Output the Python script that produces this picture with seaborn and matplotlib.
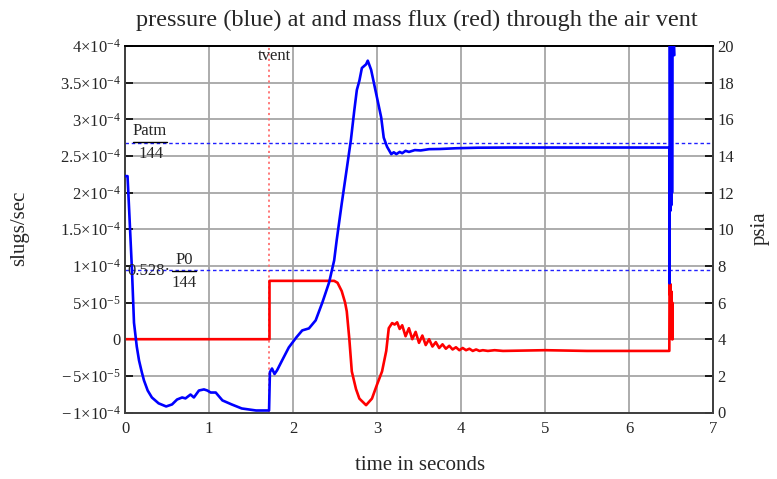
import numpy as np
import pandas as pd
import matplotlib
matplotlib.use("Agg")
import matplotlib.pyplot as plt
from matplotlib.lines import Line2D
import seaborn as sns

# ---- data -------------------------------------------------------------
t_vent = 1.72          # s, vent opening time
p_atm_psia = 14.7      # Patm/144
p0_psia = 14.7         # P0/144
choke_ratio = 0.528

# pressure at the vent (psia), right axis
t_pressure = [0.0, 0.03, 0.05, 0.083, 0.107, 0.14, 0.167, 0.20, 0.226, 0.27,
              0.32, 0.40, 0.49, 0.56, 0.62, 0.68, 0.72, 0.78, 0.82, 0.88,
              0.94, 0.98, 1.02, 1.08, 1.16, 1.27, 1.39, 1.56, 1.715, 1.725,
              1.75, 1.78, 1.81, 1.87, 1.95, 2.04, 2.11, 2.19, 2.27, 2.35,
              2.43, 2.49, 2.52, 2.58, 2.64, 2.69, 2.73, 2.76, 2.79, 2.82,
              2.87, 2.89, 2.93, 2.99, 3.05, 3.08, 3.12, 3.17, 3.20, 3.23,
              3.27, 3.30, 3.34, 3.38, 3.45, 3.52, 3.62, 3.75, 3.94, 4.2,
              4.6, 5.0, 5.5, 6.0, 6.47, 6.48, 6.483, 6.487, 6.492, 6.497,
              6.502, 6.507, 6.512, 6.52, 6.53, 6.54]
pressure_psia = [12.9, 12.9, 11.0, 7.76, 4.9, 3.6, 2.84, 2.2, 1.75, 1.2,
                 0.82, 0.5, 0.33, 0.44, 0.71, 0.82, 0.77, 0.98, 0.82, 1.2,
                 1.26, 1.2, 1.09, 1.09, 0.66, 0.44, 0.22, 0.11, 0.11, 2.2,
                 2.4, 2.1, 2.3, 2.84, 3.55, 4.1, 4.48, 4.59, 5.03, 6.01,
                 7.1, 8.3, 9.4, 11.4, 13.3, 14.9, 16.5, 17.6, 18.1, 18.8,
                 19.0, 19.2, 18.7, 17.4, 16.1, 15.0, 14.5, 14.1, 14.2, 14.1,
                 14.22, 14.15, 14.28, 14.22, 14.32, 14.3, 14.37, 14.38, 14.42, 14.45,
                 14.46, 14.46, 14.46, 14.46, 14.46, 14.46, 7.05, 24.0, 11.0, 24.0,
                 11.3, 24.0, 12.0, 24.0, 21.0, 19.5]

# mass flux through the vent (units of 1e-4 slugs/sec), left axis
t_flux = [0.0, 1.72, 1.72, 2.49, 2.53, 2.58, 2.62, 2.64, 2.67, 2.70,
          2.75, 2.79, 2.87, 2.94, 3.00, 3.06, 3.11, 3.14, 3.18, 3.21,
          3.24, 3.27, 3.30, 3.34, 3.38, 3.42, 3.46, 3.50, 3.54, 3.58,
          3.62, 3.66, 3.70, 3.74, 3.78, 3.82, 3.86, 3.90, 3.94, 3.98,
          4.02, 4.06, 4.10, 4.14, 4.18, 4.22, 4.26, 4.32, 4.40, 4.50,
          5.0, 5.5, 6.0, 6.48, 6.483, 6.49, 6.495, 6.50, 6.505, 6.51,
          6.515, 6.52]
mass_flux_e4 = [0.0, 0.0, 0.796, 0.796, 0.77, 0.656, 0.50, 0.38, 0.01, -0.44,
                -0.68, -0.81, -0.90, -0.81, -0.62, -0.44, -0.16, 0.15, 0.22, 0.20,
                0.23, 0.14, 0.19, 0.04, 0.15, 0.0, 0.10, -0.05, 0.05, -0.08,
                0.0, -0.10, -0.04, -0.12, -0.07, -0.13, -0.09, -0.14, -0.11, -0.15,
                -0.12, -0.15, -0.13, -0.16, -0.14, -0.16, -0.15, -0.16, -0.15, -0.16,
                -0.15, -0.16, -0.16, -0.16, 0.79, 0.6, 0.75, 0.05, 0.65, 0.0,
                0.5, 0.0]

flux_ticks = [-1e-4, -5e-5, 0.0, 5e-5, 1e-4, 1.5e-4, 2e-4, 2.5e-4, 3e-4, 3.5e-4, 4e-4]
flux_tick_labels = [r"$-\,1{\times}10^{-4}$", r"$-\,5{\times}10^{-5}$", "0",
                    r"$5{\times}10^{-5}$", r"$1{\times}10^{-4}$", r"$1.5{\times}10^{-4}$",
                    r"$2{\times}10^{-4}$", r"$2.5{\times}10^{-4}$", r"$3{\times}10^{-4}$",
                    r"$3.5{\times}10^{-4}$", r"$4{\times}10^{-4}$"]
psia_ticks = [0, 2, 4, 6, 8, 10, 12, 14, 16, 18, 20]
time_ticks = [0, 1, 2, 3, 4, 5, 6, 7]

pressure_df = pd.DataFrame({"t": t_pressure, "p": pressure_psia})
flux_df = pd.DataFrame({"t": t_flux, "m": np.array(mass_flux_e4) * 1e-4})

# ---- style ------------------------------------------------------------
sns.set_theme(style="white")
serif = "Liberation Serif"
plt.rcParams["font.family"] = [serif, "DejaVu Serif"]
plt.rcParams["mathtext.fontset"] = "custom"
plt.rcParams["mathtext.rm"] = serif
plt.rcParams["mathtext.it"] = serif + ":italic"
plt.rcParams["mathtext.bf"] = serif + ":bold"

W, H = 777, 479
fig = plt.figure(figsize=(W / 100, H / 100), dpi=100)
x0, x1, y0, y1 = 125, 713, 46, 412.5
ax = fig.add_axes([x0 / W, 1 - y1 / H, (x1 - x0) / W, (y1 - y0) / H])
ax2 = ax.twinx()

grid_col = "#a6a6a6"
for v in time_ticks[1:-1]:
    ax.axvline(v, color=grid_col, lw=1.3, zorder=0)
for v in flux_ticks[1:-1]:
    ax.axhline(v, color=grid_col, lw=1.3, zorder=0)

# vent opening marker
ax.axvline(t_vent, color="#ff7070", lw=1.3, ls=(0, (1.2, 1.8)), zorder=1)

sns.lineplot(data=flux_df, x="t", y="m", ax=ax, sort=False, estimator=None,
             color="#ff0000", lw=1.9, zorder=3)

# reference pressures
ax2.axhline(p_atm_psia, color="#2020ff", lw=1.0, ls=(0, (2.5, 2)), zorder=2)
ax2.axhline(choke_ratio * p0_psia, color="#2020ff", lw=1.0, ls=(0, (2.5, 2)), zorder=2)

sns.lineplot(data=pressure_df, x="t", y="p", ax=ax2, sort=False, estimator=None,
             color="#0000ff", lw=1.9, zorder=4)

ax.set_xlim(0, 7)
ax.set_ylim(-1e-4, 4e-4)
ax2.set_ylim(0, 20)

ax.set_xticks(time_ticks)
ax.set_xticklabels([str(v) for v in time_ticks], fontsize=12)
ax.set_yticks(flux_ticks)
ax.set_yticklabels(flux_tick_labels, fontsize=12)
ax2.set_yticks(psia_ticks)
ax2.set_yticklabels([str(v) for v in psia_ticks], fontsize=12)

ax.tick_params(axis="y", direction="in", length=6, width=1.2, color="black", pad=3)
ax.tick_params(axis="x", direction="in", length=0, pad=6)
ax2.tick_params(axis="y", direction="in", length=6, width=1.2, color="black", pad=3)

for a in (ax, ax2):
    for s in a.spines.values():
        s.set_color("#404040")
        s.set_linewidth(1.3)
    a.spines["top"].set_color("black")

ax.set_xlabel("")
ax.set_ylabel("")
ax2.set_ylabel("")
fig.text(420 / W, 1 - 466 / H, "time in seconds", fontsize=15, ha="center", va="center")
fig.text(20 / W, 1 - 228 / H, "slugs/sec", fontsize=15, rotation=90, ha="center", va="center")
fig.text(760 / W, 1 - 228 / H, "psia", fontsize=15, rotation=90, ha="center", va="center")
fig.text(417 / W, 1 - 20 / H, "pressure (blue) at and mass flux (red) through the air vent",
         fontsize=17.5, ha="center", va="center")


def px(x, y):
    return x / W, 1 - y / H


# fraction annotations for the reference pressures
fig.text(*px(150, 131), "Patm", fontsize=12, ha="center", va="center")
fig.add_artist(Line2D([133 / W, 167 / W], [1 - 142 / H] * 2, color="black", lw=1.0))
fig.text(*px(151, 154), "144", fontsize=12, ha="center", va="center")

fig.text(*px(149, 271), "0.528\u00b7", fontsize=12, ha="center", va="center")
fig.text(*px(184, 260), "P0", fontsize=12, ha="center", va="center")
fig.add_artist(Line2D([172 / W, 196 / W], [1 - 271 / H] * 2, color="black", lw=1.0))
fig.text(*px(184, 283), "144", fontsize=12, ha="center", va="center")

fig.text(*px(274, 56), "tvent", fontsize=12, ha="center", va="center")

fig.savefig("out.png", dpi=100)
